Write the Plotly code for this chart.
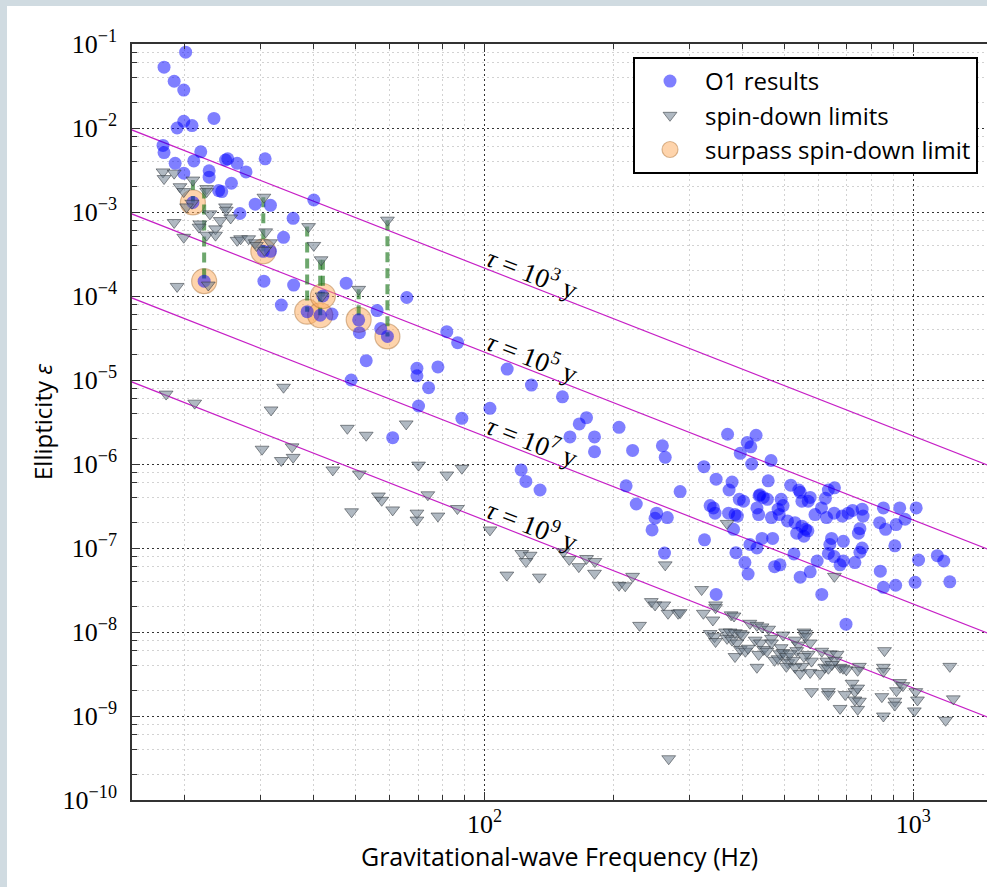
import numpy as np
import plotly.graph_objects as go

# ---------------- data ----------------
# O1 upper limits on ellipticity (blue circles)
o1_freq = [
    20.1, 17.9, 18.9, 19.9, 19.9, 19.2, 20.8, 23.4, 17.8, 17.9, 19.0, 19.9, 21.0, 21.8,
    22.8, 22.8, 24.9, 25.2, 26.5, 27.8, 25.7, 24.0, 24.4, 30.8, 29.2, 31.7, 26.9, 40.0,
    35.8, 34.0, 30.6, 35.9, 33.6, 47.6, 65.9, 56.2, 57.3, 51.1, 44.1, 53.0, 81.7, 86.6,
    48.9, 69.6, 69.6, 77.9, 74.1, 70.2, 88.6, 61.1, 103, 113, 128.7, 152, 173, 166.4,
    158.3, 180.6, 180.6, 206, 221.6, 121.8, 124.9, 134.8, 214, 226, 250, 246,
    20.9, 22.2, 30.5, 31.7, 38.6, 41.4, 42.0, 50.9, 59.4,
    369, 430, 410, 418, 395, 420, 466, 325, 347, 378, 372, 459, 286, 518, 541, 545,
    439, 447, 457, 437, 393, 402, 492, 497, 484, 575, 569, 550, 624, 634, 655, 611,
    654, 705, 760, 764, 432, 436, 467, 336, 342, 345, 371, 384, 389, 381, 487, 509,
    530, 550, 561, 568, 535, 556, 590, 628, 683, 722, 751, 745, 645, 687, 639, 760,
    751, 634, 654, 687, 731, 675, 597, 575, 545, 444, 470, 416, 432, 527, 386, 405,
    412, 475, 489, 326, 347, 612, 838, 852, 910, 852, 930, 835, 912, 957, 906, 1016,
    1029, 1010, 1138, 1178, 1217, 697, 260, 264, 252, 267, 263, 862,
]
o1_eps = [
    8.0e-2, 5.3e-2, 3.6e-2, 2.83e-2, 1.2e-2, 1.0e-2, 1.07e-2, 1.3e-2, 6.2e-3, 5.1e-3,
    3.8e-3, 2.9e-3, 4.05e-3, 5.2e-3, 3.1e-3, 2.6e-3, 4.16e-3, 4.3e-3, 3.8e-3, 3.0e-3,
    2.2e-3, 1.8e-3, 1.75e-3, 4.3e-3, 1.24e-3, 1.2e-3, 9.6e-4, 1.39e-3, 8.4e-4, 5.0e-4,
    1.5e-4, 1.35e-4, 7.8e-5, 1.42e-4, 9.6e-5, 6.7e-5, 4.1e-5, 3.65e-5, 6.1e-5, 1.7e-5,
    3.76e-5, 2.78e-5, 1.0e-5, 1.38e-5, 1.12e-5, 1.43e-5, 8.1e-6, 4.9e-6, 3.5e-6, 2.06e-6,
    4.6e-6, 1.35e-5, 8.7e-6, 6.3e-6, 3.56e-6, 3.0e-6, 2.1e-6, 2.1e-6, 1.4e-6, 2.73e-6,
    1.45e-6, 8.5e-7, 6.2e-7, 4.9e-7, 5.5e-7, 3.34e-7, 2.26e-7, 1.64e-7,
    1.3e-3, 1.5e-4, 3.4e-4, 3.4e-4, 6.5e-5, 5.9e-5, 1.0e-4, 5.2e-5, 3.3e-5,
    2.26e-6, 2.2e-6, 1.8e-6, 1.6e-6, 1.34e-6, 1.0e-6, 1.1e-6, 9.3e-7, 6.6e-7, 6.1e-7,
    4.9e-7, 6.3e-7, 4.7e-7, 5.6e-7, 4.9e-7, 4.6e-7, 4.3e-7, 4.0e-7, 3.8e-7, 4.2e-7,
    3.8e-7, 3.6e-7, 3.8e-7, 3.2e-7, 2.9e-7, 4.0e-7, 3.6e-7, 3.6e-7, 3.9e-7, 4.9e-7,
    5.2e-7, 3.0e-7, 2.6e-7, 2.6e-7, 2.9e-7, 2.4e-7, 3.0e-7, 2.5e-7, 2.3e-7, 3.2e-7,
    3.0e-7, 2.6e-7, 2.6e-7, 2.5e-7, 2.4e-7, 1.67e-7, 2.5e-7, 2.1e-7, 2.0e-7, 1.82e-7,
    1.67e-7, 1.6e-7, 1.5e-7, 1.38e-7, 2.5e-7, 2.3e-7, 2.4e-7, 2.8e-7, 1.7e-7, 1.5e-7,
    1.3e-7, 1.2e-7, 1.1e-7, 1.0e-7, 8.9e-8, 8.6e-8, 7.9e-8, 7.0e-8, 6.7e-8, 6.3e-8,
    7.0e-8, 5.2e-8, 4.5e-8, 1.3e-7, 1.3e-7, 1.1e-7, 1.0e-7, 8.5e-8, 8.8e-8, 6.7e-8,
    4.9e-8, 6.0e-8, 6.3e-8, 1.25e-7, 2.8e-8, 2.8e-8, 5.3e-8, 3.4e-8, 3.6e-8, 3.0e-7,
    3.0e-7, 2.0e-7, 1.9e-7, 2.2e-7, 1.06e-7, 3.0e-7, 7.2e-8, 3.9e-8, 8.1e-8, 7.0e-8,
    3.96e-8, 1.24e-8, 1.65e-6, 1.2e-6, 2.6e-7, 2.3e-7, 8.7e-8, 1.67e-7,
]

# spin-down limits (grey triangles)
sd_freq = [
    17.8, 17.9, 18.9, 19.5, 19.9, 20.9, 22.5, 22.5, 20.8, 20.2, 18.9, 19.9, 22.9, 21.7,
    24.2, 22.5, 23.6, 23.6, 24.9, 25.0, 25.6, 26.5, 27.0, 28.2, 29.2, 30.6, 30.9, 31.7,
    30.7, 19.2, 22.7, 38.9, 40.0, 41.6, 21.6, 29.4, 41.8, 50.9, 59.4,
    18.1, 21.1, 34.0, 31.8, 30.3, 33.6, 35.8, 35.6, 44.3, 47.9, 53.0, 65.7, 51.1, 70.2,
    81.7, 88.6, 56.6, 57.6, 73.8, 61.1, 49.0, 69.6, 69.6, 77.9, 86.5, 103, 112.8, 134.3,
    122.2, 127.8, 125, 152.8, 157.7, 166, 173, 181, 180.6, 206, 213, 221.6, 245, 250,
    262, 268, 283, 230, 324, 341, 346, 346, 376, 382, 336, 344, 346, 365, 374, 384, 395,
    400, 368, 378, 388, 384, 395, 406, 412, 416, 432, 444, 460, 428, 440, 436, 432, 448,
    456, 467, 467, 475, 484, 489, 497, 492, 497, 506, 510, 530, 540, 535, 556, 561, 561,
    575, 569, 579, 556, 551, 525, 516, 506, 530, 545, 575, 606, 622, 612, 628, 640, 664,
    675, 686, 698, 658, 646, 634, 579, 634, 634, 675, 694, 731, 731, 749, 742, 720, 742,
    749, 742, 845, 852, 906, 906, 914, 930, 946, 857, 852, 852, 1014, 1023, 1006, 1190,
    1240, 1217, 269, 321, 286, 368, 655, 264,
]
sd_eps = [
    3.0e-3, 2.5e-3, 2.9e-3, 2.0e-3, 1.75e-3, 2.4e-3, 1.9e-3, 1.75e-3, 1.27e-3, 1.15e-3,
    7.5e-4, 5.0e-4, 9.5e-4, 7.2e-4, 7.9e-4, 5.3e-4, 6.3e-4, 5.3e-4, 1.15e-3, 1.05e-3,
    8.5e-4, 4.6e-4, 4.8e-4, 4.8e-4, 4.3e-4, 1.5e-3, 5.8e-4, 4.3e-4, 3.5e-4, 1.3e-4,
    1.35e-4, 6.7e-4, 4.0e-4, 2.7e-4, 6.6e-4, 4.0e-4, 1.0e-4, 1.2e-4, 8.0e-4,
    6.8e-6, 5.3e-6, 8.2e-6, 4.4e-6, 1.5e-6, 1.1e-6, 1.2e-6, 1.6e-6, 8.5e-7, 2.66e-6,
    2.2e-6, 3.0e-6, 7.6e-7, 9.7e-7, 7.4e-7, 8.9e-7, 4.16e-7, 3.7e-7, 4.3e-7, 2.84e-7,
    2.7e-7, 2.6e-7, 2.15e-7, 2.4e-7, 2.95e-7, 1.64e-7, 4.76e-8, 4.5e-8, 8.6e-8, 8.2e-8,
    6.9e-8, 9.0e-8, 7.3e-8, 6.0e-8, 7.5e-8, 6.9e-8, 5.0e-8, 3.6e-8, 3.55e-8, 4.6e-8,
    2.3e-8, 2.1e-8, 2.1e-8, 1.67e-8, 1.67e-8, 1.2e-8, 1.67e-8, 1.39e-8, 2.1e-8, 1.95e-8,
    1.6e-8, 1.55e-8, 9.6e-9, 8.8e-9, 7.7e-9, 1.0e-8, 1.0e-8, 9.8e-9, 9.6e-9, 9.2e-9,
    8.4e-9, 8.0e-9, 7.4e-9, 5.1e-9, 6.2e-9, 5.9e-9, 6.4e-9, 1.27e-8, 1.2e-8, 1.15e-8,
    1.08e-8, 8.0e-9, 7.4e-9, 5.4e-9, 3.8e-9, 6.2e-9, 5.9e-9, 8.4e-9, 7.4e-9, 4.6e-9,
    4.8e-9, 5.5e-9, 9.2e-9, 6.5e-9, 5.7e-9, 5.1e-9, 4.3e-9, 8.0e-9, 7.0e-9, 6.0e-9,
    1.0e-8, 9.6e-9, 8.8e-9, 7.4e-9, 5.4e-9, 4.5e-9, 5.1e-9, 3.9e-9, 4.6e-9, 5.5e-9,
    3.9e-9, 3.8e-9, 3.2e-9, 3.3e-9, 3.2e-9, 3.8e-9, 5.9e-9, 4.5e-9, 5.5e-9, 5.4e-9,
    3.8e-9, 3.7e-9, 3.55e-9, 4.6e-9, 4.1e-9, 3.7e-9, 1.95e-9, 1.95e-9, 1.8e-9, 1.23e-9,
    1.8e-9, 1.95e-9, 1.55e-9, 1.5e-9, 1.2e-9, 2.45e-9, 2.15e-9, 3.9e-9, 3.5e-9, 1.7e-9,
    1.0e-9, 1.5e-9, 1.35e-9, 2.0e-9, 2.5e-9, 2.3e-9, 6.0e-9, 3.8e-9, 3.4e-9, 1.95e-9,
    1.55e-9, 1.15e-9, 8.9e-10, 1.6e-9, 3.9e-9, 3.1e-10, 3.2e-8, 1.7e-8, 1.96e-7, 4.6e-8,
    6.3e-8,
]

# pulsars whose O1 limit beats the spin-down limit
surpass_freq = [20.9, 22.2, 30.5, 38.6, 41.4, 42.0, 50.9, 59.4]
surpass_eps = [1.3e-3, 1.5e-4, 3.4e-4, 6.5e-5, 5.9e-5, 1.0e-4, 5.2e-5, 3.3e-5]
surpass_sd_eps = [2.4e-3, 1.9e-3, 1.5e-3, 6.7e-4, 2.7e-4, 2.7e-4, 1.2e-4, 8.0e-4]

# constant spin-down age lines (epsilon proportional to f^-2)
tau_exponents = [3, 5, 7, 9]
tau_eps_at_100hz = [2.15e-4, 2.15e-5, 2.15e-6, 2.15e-7]
tau_line_freq = [14.0, 2000.0]
tau_label_freq = 130.0
tau_label_lift = 1.5

x_tick_vals = [100, 1000]
x_tick_text = ["10<sup>2</sup>", "10<sup>3</sup>"]
y_tick_vals = [10.0 ** k for k in range(-10, 0)]
y_tick_text = ["10<sup>\u2212%d</sup>" % (-k) for k in range(-10, 0)]

# ---------------- figure ----------------
W, H = 987, 887
ML, MR, MT, MB = 132, 0, 44, 87
SERIF = "Liberation Serif, DejaVu Serif, serif"
SANS = "Open Sans, Lato, sans-serif"

fig = go.Figure()

# spin-down age lines
for expo, e100 in zip(tau_exponents, tau_eps_at_100hz):
    xs = np.array(tau_line_freq)
    ys = e100 * (xs / 100.0) ** -2
    fig.add_trace(go.Scatter(x=xs, y=ys, mode="lines",
                             line=dict(color="#c61fc6", width=1.2),
                             showlegend=False, hoverinfo="skip"))
    fig.add_annotation(
        x=np.log10(tau_label_freq),
        y=np.log10(e100 * (tau_label_freq / 100.0) ** -2 * tau_label_lift),
        text="<i>\u03c4</i> = 10<sup>%d</sup> y" % expo,
        showarrow=False, textangle=21.4,
        font=dict(family=SERIF, size=27, color="black"))

# surpass circles
fig.add_trace(go.Scatter(
    x=surpass_freq, y=surpass_eps, mode="markers", name="surpass spin-down limit",
    legendrank=3,
    marker=dict(size=25, color="rgba(253,170,90,0.5)",
                line=dict(color="rgba(170,110,50,0.45)", width=1.2)),
))

# green dashed connectors
gx, gy = [], []
for f, lo, hi in zip(surpass_freq, surpass_eps, surpass_sd_eps):
    gx += [f, f, None]
    gy += [hi, lo, None]
fig.add_trace(go.Scatter(x=gx, y=gy, mode="lines",
                         line=dict(color="rgba(30,120,30,0.65)", width=4, dash="10px,6px"),
                         showlegend=False, hoverinfo="skip"))

# O1 results
fig.add_trace(go.Scatter(
    x=o1_freq, y=o1_eps, mode="markers", name="O1 results", legendrank=1,
    marker=dict(size=13, color="rgba(0,0,255,0.5)", line=dict(width=0)),
))

# spin-down limits
fig.add_trace(go.Scatter(
    x=sd_freq, y=sd_eps, mode="markers", name="spin-down limits", legendrank=2,
    marker=dict(symbol="triangle-down", size=12, color="rgba(112,128,144,0.55)",
                line=dict(color="rgba(50,55,60,0.55)", width=1)),
))

x_minor = [m * 10 ** k for k in (1, 2, 3) for m in range(2, 10)]
y_minor = [m * 10.0 ** k for k in range(-10, -1) for m in (2, 4, 6, 8)]

axis_common = dict(
    type="log", showline=True, linecolor="#333", linewidth=1.5,
    ticks="inside", ticklen=8, tickwidth=1, tickcolor="#333",
    showgrid=True, gridcolor="#333", gridwidth=1, griddash="2px,3px",
    zeroline=False, tickmode="array",
    tickfont=dict(family=SERIF, size=26, color="black"),
)

fig.update_layout(
    width=W, height=H,
    margin=dict(l=ML, r=MR, t=MT, b=MB, autoexpand=False),
    paper_bgcolor="white", plot_bgcolor="white",
    xaxis=dict(
        axis_common, range=[np.log10(15.07), np.log10(1486)],
        tickvals=x_tick_vals, ticktext=x_tick_text, mirror="ticks",
        ticklabelstandoff=0,
        minor=dict(tickmode="array", tickvals=x_minor, ticks="inside", ticklen=5,
                   tickcolor="#333", showgrid=True, gridcolor="#d2d2d2",
                   griddash="2px,3px", gridwidth=1),
        title=dict(text="Gravitational-wave Frequency (Hz)", standoff=0,
                   font=dict(family=SANS, size=25, color="black")),
    ),
    yaxis=dict(
        axis_common, range=[-10, -1],
        tickvals=y_tick_vals, ticktext=y_tick_text, ticklabelstandoff=8,
        minor=dict(tickmode="array", tickvals=y_minor, ticks="inside", ticklen=5,
                   tickcolor="#333", showgrid=True, gridcolor="#d2d2d2",
                   griddash="2px,3px", gridwidth=1),
        title=dict(text="Ellipticity <i>\u03b5</i>",
                   standoff=3, font=dict(family=SANS, size=24, color="black")),
    ),
    legend=dict(
        x=(633 - ML) / (W - ML - MR), y=(H - MB - 57) / (H - MB - MT),
        xanchor="left", yanchor="top",
        bgcolor="white", bordercolor="black", borderwidth=2,
        font=dict(family=SANS, size=24, color="black"),
        itemsizing="trace", itemwidth=60, tracegroupgap=4,
    ),
    shapes=[
        dict(type="rect", xref="paper", yref="paper", layer="below",
             x0=-0.3, x1=(7 - ML) / (W - ML - MR), y0=-0.3, y1=1.3,
             fillcolor="#d0dbe1", line=dict(width=0)),
        dict(type="rect", xref="paper", yref="paper", layer="below",
             x0=-0.3, x1=1.3, y0=(H - MB - 6) / (H - MB - MT), y1=1.3,
             fillcolor="#d0dbe1", line=dict(width=0)),
    ],
)

fig.write_html("out.html")
